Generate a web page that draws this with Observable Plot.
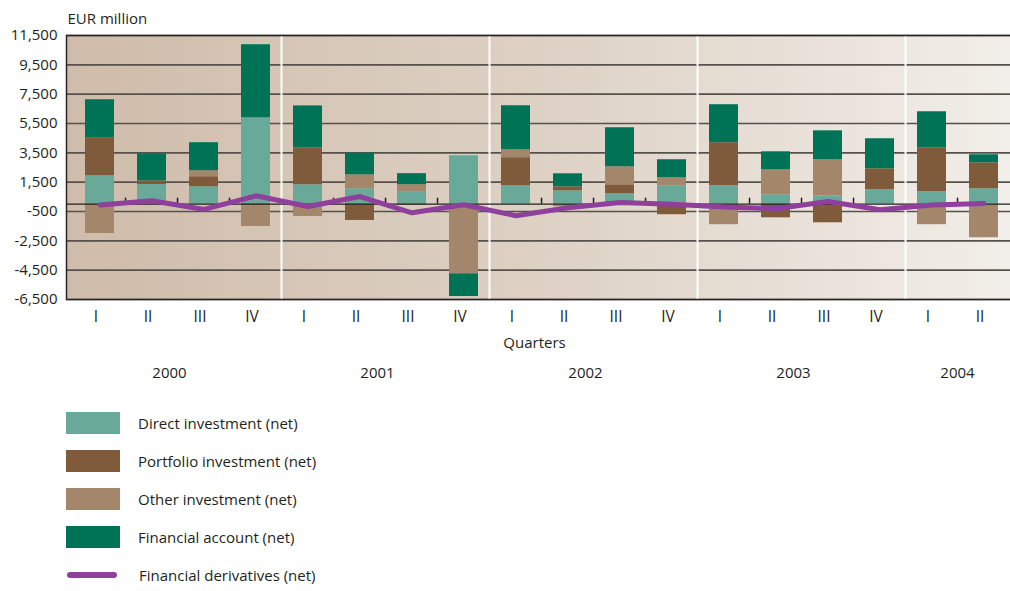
<!DOCTYPE html>
<html>
<head>
<meta charset="utf-8">
<script src="https://cdn.jsdelivr.net/npm/d3@7"></script>
<script src="https://cdn.jsdelivr.net/npm/@observablehq/plot@0.6"></script>
<style>
  body { margin: 0; background: #fff; font-family: "Open Sans", sans-serif; color: #231f20; }
  #legend { margin-top: 17px; }
  .item { display: flex; align-items: center; height: 22px; margin-bottom: 16px; }
  .sw { margin-left: 66px; width: 54px; height: 22px; }
  .ln { margin-left: 67px; width: 50px; height: 6px; border-radius: 3px; margin-right: 4px; }
  .lbl { margin-left: 18px; font-size: 15px; }
</style>
</head>
<body>
<div id="chart"></div>
<div id="legend"></div>
<script>
const years = ["2000", "2001", "2002", "2003", "2004"];
const quarterYears = ["2000","2000","2000","2000","2001","2001","2001","2001","2002","2002","2002","2002","2003","2003","2003","2003","2004","2004"];
const quarterLabels = ["I","II","III","IV","I","II","III","IV","I","II","III","IV","I","II","III","IV","I","II"];
const seriesNames = ["Direct investment (net)", "Portfolio investment (net)", "Other investment (net)", "Financial account (net)"];
const lineName = "Financial derivatives (net)";
const direct    = [1940, 1340, 1190, 5890, 1320, 1050,  850,  3300, 1260,  910,  710, 1260, 1260,  640,   570,  980,   850,  1050];
const portfolio = [2590,  250,  680, -120, 2520, -1110, -60,     0, 1910,  270,  610, -720, 2930, -930, -1270, 1430,  3000,  1770];
const other     = [-2000,   0,  410, -1400, -840,  950,  480, -4750,  540, -180, 1230,  540, -1400, 1700, 2450,    0, -1400, -2290];
const financial = [2590, 1840, 1910, 4980, 2860, 1480,  750, -1550, 3000,  890, 2660, 1230, 2590, 1230,  1980, 2050,  2450,   550];
const derivatives = [-50, 230, -360, 570, -160, 520, -590, -40, -790, -240, 110, 0, -200, -310, 180, -380, -60, 50];
const yTicks = [-6500, -4500, -2500, -500, 1500, 3500, 5500, 7500, 9500, 11500];

const colors = ["#68a999", "#7f5b3b", "#a4866a", "#007356"];
const lineColor = "#8f3f9c";

const keys = quarterYears.map((y, i) => y + " " + quarterLabels[i]);
const seriesValues = [direct, portfolio, other, financial];
const rows = [];
seriesNames.forEach((s, si) => seriesValues[si].forEach((v, i) => rows.push({key: keys[i], series: s, value: v})));
const lineRows = derivatives.map((v, i) => ({key: keys[i], value: v}));

const xRange = [65.5, 1018.5];
const step = (xRange[1] - xRange[0]) / keys.length;
const yearStarts = keys.filter((k, i) => i > 0 && quarterLabels[i] === "I");
const innerBounds = keys.filter((k, i) => i > 0 && quarterLabels[i] !== "I");
const yearAnchors = years.map(y => ({year: y, key: keys.find((k, i) => quarterYears[i] === y && quarterLabels[i] === (y === "2004" ? "I" : "II"))}));

const plot = Plot.plot({
  width: 1010,
  height: 395,
  marginTop: 35,
  marginBottom: 96,
  marginLeft: 66,
  marginRight: 0,
  style: {fontFamily: "'Open Sans', sans-serif", fontSize: "15px", color: "#231f20", background: "white"},
  x: {type: "band", domain: keys, range: xRange, paddingInner: 0.433, paddingOuter: 0.2165},
  y: {domain: [-6500, 11500]},
  color: {domain: seriesNames, range: colors},
  marks: [
    Plot.frame({fill: "url(#bggrad)", stroke: "none"}),
    Plot.ruleY(yTicks, {stroke: "#57514c", strokeWidth: 1.6}),
    Plot.ruleX(yearStarts, {x: d => d, dx: -step / 2, stroke: "#ffffff", strokeWidth: 2}),
    Plot.barY(rows, {x: "key", y: "value", fill: "series"}),
    Plot.ruleY([0], {stroke: "#231f20", strokeWidth: 1.3}),
    Plot.ruleX(innerBounds, {x: d => d, y1: 0, y2: 0, insetTop: -6, dx: -step / 2, stroke: "#231f20", strokeWidth: 1.5}),
    Plot.line(lineRows, {x: "key", y: "value", stroke: lineColor, strokeWidth: 5, strokeLinejoin: "round", strokeLinecap: "round"}),
    Plot.frame({stroke: "#2b2623", strokeWidth: 1.5, insetRight: -3}),
    Plot.axisX({tickSize: 0, tickPadding: 11, dx: -4, tickFormat: k => k.split(" ")[1], fontSize: 15.5, label: null}),
    Plot.axisY({ticks: yTicks, tickSize: 0, tickPadding: 9, tickFormat: d => d.toLocaleString("en-US"), fontSize: 15, label: null}),
    Plot.text(["EUR million"], {frameAnchor: "top-left", textAnchor: "start", dx: 1, dy: -22, fontSize: 15, fill: "#231f20"}),
    Plot.text(["Quarters"], {frameAnchor: "bottom", dx: -4, dy: 48, fontSize: 15, fill: "#231f20"}),
    Plot.text(yearAnchors.filter(d => d.year !== "2004"), {x: "key", text: "year", frameAnchor: "bottom", dx: step / 2 - 9, dy: 78, fontSize: 15, fill: "#231f20"}),
    Plot.text(yearAnchors.filter(d => d.year === "2004"), {x: "key", text: "year", frameAnchor: "bottom", dx: step / 2 - 1, dy: 78, fontSize: 15, fill: "#231f20"})
  ]
});

const svgSel = d3.select(plot);
const grad = svgSel.insert("defs", ":first-child").append("linearGradient").attr("id", "bggrad").attr("x1", "0").attr("x2", "1").attr("y1", "0").attr("y2", "0");
grad.append("stop").attr("offset", "0").attr("stop-color", "#cfbcaa");
grad.append("stop").attr("offset", "0.5").attr("stop-color", "#ddd1c4");
grad.append("stop").attr("offset", "1").attr("stop-color", "#f2eee9");
document.getElementById("chart").appendChild(plot);

const legend = document.getElementById("legend");
seriesNames.forEach((s, i) => {
  const it = document.createElement("div"); it.className = "item";
  it.innerHTML = `<div class="sw" style="background:${colors[i]}"></div><div class="lbl">${s}</div>`;
  legend.appendChild(it);
});
const li = document.createElement("div"); li.className = "item";
li.innerHTML = `<div class="ln" style="background:${lineColor}"></div><div class="lbl">${lineName}</div>`;
legend.appendChild(li);
</script>
</body>
</html>
